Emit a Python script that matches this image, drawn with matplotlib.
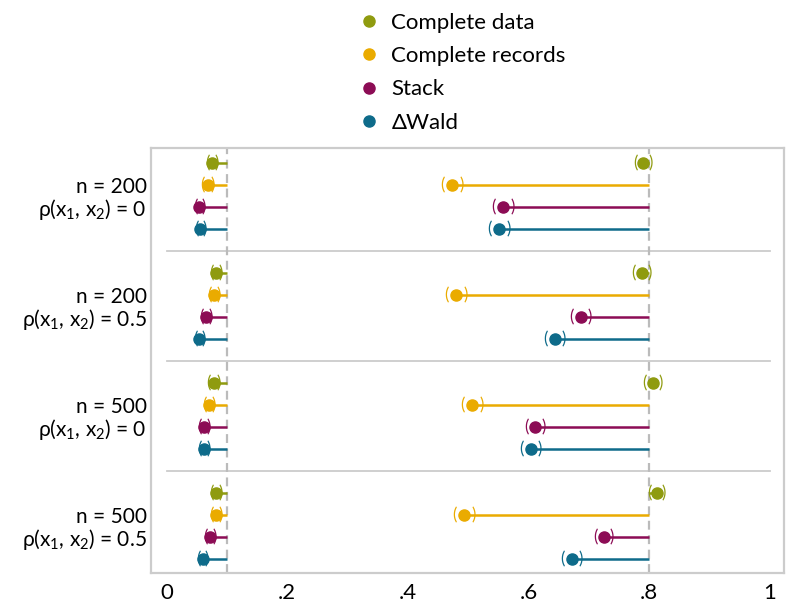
import matplotlib
matplotlib.use('Agg')
import matplotlib.pyplot as plt
from matplotlib.lines import Line2D
import numpy as np

plt.rcParams['font.family'] = ['Lato', 'DejaVu Sans']
plt.rcParams['mathtext.fontset'] = 'custom'
plt.rcParams['mathtext.rm'] = 'Lato'
plt.rcParams['mathtext.it'] = 'Lato:italic'

# ─── data ───
groups = [r"n = 200" + "\n" + r"ρ(x$_\mathrm{1}$, x$_\mathrm{2}$) = 0",
          r"n = 200" + "\n" + r"ρ(x$_\mathrm{1}$, x$_\mathrm{2}$) = 0.5",
          r"n = 500" + "\n" + r"ρ(x$_\mathrm{1}$, x$_\mathrm{2}$) = 0",
          r"n = 500" + "\n" + r"ρ(x$_\mathrm{1}$, x$_\mathrm{2}$) = 0.5"]
methods = ["Complete data", "Complete records", "Stack", "ΔWald"]
colors = ['#8f9b0f', '#eaab00', '#8c0c55', '#0e6b8a']

# type I error (rows: groups, cols: methods)
type1 = [[0.075, 0.068, 0.054, 0.056],
         [0.082, 0.079, 0.065, 0.054],
         [0.078, 0.070, 0.062, 0.062],
         [0.082, 0.082, 0.072, 0.060]]
type1_hw = [[0.008, 0.008, 0.007, 0.007],
            [0.008, 0.008, 0.008, 0.007],
            [0.008, 0.008, 0.008, 0.008],
            [0.008, 0.008, 0.008, 0.007]]
# power
power = [[0.790, 0.473, 0.558, 0.551],
         [0.788, 0.480, 0.687, 0.644],
         [0.806, 0.506, 0.611, 0.604],
         [0.813, 0.493, 0.725, 0.672]]
power_hw = [[0.013, 0.016, 0.016, 0.016],
            [0.013, 0.016, 0.015, 0.015],
            [0.013, 0.016, 0.015, 0.015],
            [0.012, 0.016, 0.014, 0.015]]
ref_type1 = 0.1
ref_power = 0.8

xticks = [0, 0.2, 0.4, 0.6, 0.8, 1.0]
xticklabels = ['0', '.2', '.4', '.6', '.8', '1']

fig = plt.figure(figsize=(8, 6.06), dpi=100)
ax = fig.add_axes([151/800, 1-573/606, (784-151)/800, (573-148)/606])

for x in (ref_type1, ref_power):
    ax.axvline(x, color='#bbbbbb', lw=1.6, ls=(0, (4, 2.5)), zorder=1)

for g in range(len(groups)):
    for m in range(len(methods)):
        y = g * 5 + m
        c = colors[m]
        for val, hw, ref in ((type1[g][m], type1_hw[g][m], ref_type1),
                             (power[g][m], power_hw[g][m], ref_power)):
            ax.plot([val, ref], [y, y], color=c, lw=1.8, zorder=2, solid_capstyle='butt')
            ax.plot(val, y, 'o', color=c, ms=8, zorder=3)
            ax.text(val - hw, y, '(', color=c, fontsize=12, ha='center', va='center', zorder=3)
            ax.text(val + hw, y, ')', color=c, fontsize=12, ha='center', va='center', zorder=3)
    if g > 0:
        ax.plot([0, 1], [g * 5 - 1, g * 5 - 1], color='#cccccc', lw=1.3, zorder=0)

ax.set_xlim(-0.026, 1.024)
ax.set_ylim(18.62, -0.68)
ax.set_xticks(xticks)
ax.set_xticklabels(xticklabels, fontsize=16)
ax.set_yticks([g * 5 + 1.5 for g in range(len(groups))])
ax.set_yticklabels(groups, fontsize=15, ha='right', linespacing=1.0)
ax.tick_params(axis='x', length=0, pad=7)
ax.tick_params(axis='y', length=0, pad=3)
for s in ax.spines.values():
    s.set_color('#cccccc')
    s.set_linewidth(1.6)

handles = [Line2D([], [], marker='o', ls='', color=c, ms=8) for c in colors]
fig.legend(handles, methods, loc='upper left', bbox_to_anchor=(338/800, 1.012),
           frameon=False, fontsize=16, labelspacing=0.6, handletextpad=0.5,
           handlelength=1.0)

plt.savefig('out.png', dpi=100)
plt.close()
